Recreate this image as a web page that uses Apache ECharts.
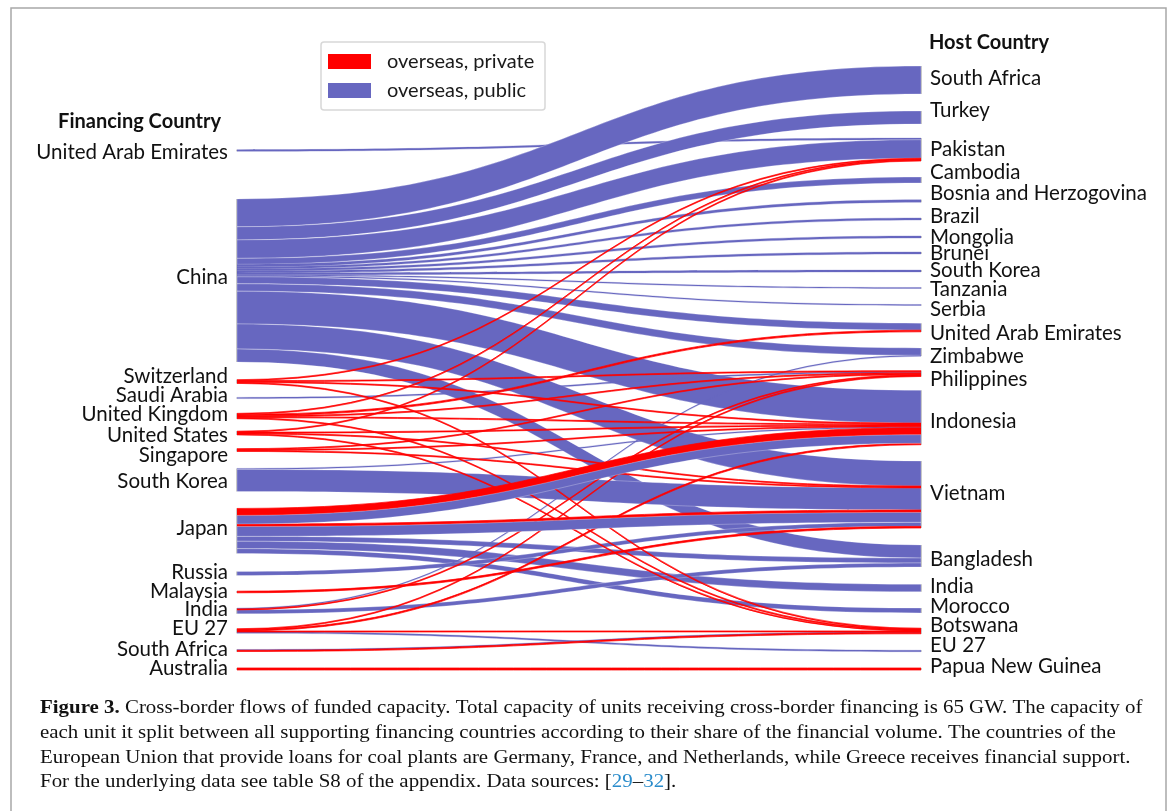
<!DOCTYPE html>
<html>
<head>
<meta charset="utf-8">
<script src="https://cdn.jsdelivr.net/npm/echarts@6/dist/echarts.min.js"></script>
<style>
  html, body { margin: 0; padding: 0; background: #fff; }
  #chart { width: 1170px; height: 811px; }
</style>
</head>
<body>
<div id="chart"></div>
<script>
// financing countries (left) and host countries (right), top to bottom
var financing = ['United Arab Emirates', 'China', 'Switzerland', 'Saudi Arabia', 'United Kingdom',
  'United States', 'Singapore', 'South Korea', 'Japan', 'Russia', 'Malaysia', 'India', 'EU 27',
  'South Africa', 'Australia'];
var hosts = ['South Africa', 'Turkey', 'Pakistan', 'Cambodia', 'Bosnia and Herzogovina', 'Brazil',
  'Mongolia', 'Brunei', 'South Korea', 'Tanzania', 'Serbia', 'United Arab Emirates', 'Zimbabwe',
  'Philippines', 'Indonesia', 'Vietnam', 'Bangladesh', 'India', 'Morocco', 'Botswana', 'EU 27',
  'Papua New Guinea'];

// funded capacity in GW, [financing, host, GW]
var publicFlows = [
  ['United Arab Emirates', 'Pakistan', 0.4],
  ['China', 'South Africa', 6.8],
  ['China', 'Turkey', 3.2],
  ['China', 'Pakistan', 4.5],
  ['China', 'Cambodia', 1.45],
  ['China', 'Bosnia and Herzogovina', 0.6],
  ['China', 'Brazil', 0.5],
  ['China', 'Mongolia', 0.5],
  ['China', 'Brunei', 0.5],
  ['China', 'South Korea', 0.45],
  ['China', 'Tanzania', 0.25],
  ['China', 'Serbia', 0.25],
  ['China', 'United Arab Emirates', 1.7],
  ['China', 'Zimbabwe', 1.8],
  ['China', 'Indonesia', 8.0],
  ['China', 'Vietnam', 6.1],
  ['China', 'Bangladesh', 3.2],
  ['Saudi Arabia', 'Philippines', 0.3],
  ['South Korea', 'Indonesia', 0.25],
  ['South Korea', 'Vietnam', 5.4],
  ['Japan', 'Bangladesh', 1.2],
  ['Japan', 'India', 1.8],
  ['Japan', 'Morocco', 1.2],
  ['Russia', 'Vietnam', 1.0],
  ['India', 'Zimbabwe', 0.2],
  ['India', 'Bangladesh', 1.0],
  ['EU 27', 'EU 27', 0.35],
  ['South Africa', 'Botswana', 0.2]
];
var privateFlows = [
  ['Switzerland', 'Pakistan', 0.22],
  ['Switzerland', 'Philippines', 0.22],
  ['Switzerland', 'Indonesia', 0.22],
  ['Switzerland', 'Botswana', 0.22],
  ['United Kingdom', 'Pakistan', 0.22],
  ['United Kingdom', 'United Arab Emirates', 0.4],
  ['United Kingdom', 'Philippines', 0.22],
  ['United Kingdom', 'Indonesia', 0.22],
  ['United Kingdom', 'Botswana', 0.22],
  ['United States', 'Pakistan', 0.22],
  ['United States', 'Indonesia', 0.22],
  ['United States', 'Vietnam', 0.22],
  ['United States', 'Botswana', 0.22],
  ['Singapore', 'Philippines', 0.22],
  ['Singapore', 'Indonesia', 0.22],
  ['Singapore', 'Vietnam', 0.22],
  ['Japan', 'Indonesia', 1.7],
  ['Japan', 'Vietnam', 0.6],
  ['Malaysia', 'Vietnam', 0.4],
  ['India', 'Philippines', 0.2],
  ['EU 27', 'Philippines', 0.2],
  ['EU 27', 'Indonesia', 0.35],
  ['EU 27', 'Botswana', 0.2],
  ['South Africa', 'Botswana', 0.3],
  ['Australia', 'Papua New Guinea', 0.5]
];
// Japanese public loans, listed after its private ones (below them at each node)
var japanPublicFlows = [
  ['Japan', 'Indonesia', 2.1],
  ['Japan', 'Vietnam', 2.4]
];

// vertical centre of each node and of its label in the figure (px)
var leftY = [150.5, 280.5, 381.5, 398, 416, 433, 450, 480, 531, 573.5, 592, 611, 631, 650.5, 669];
var leftLabelY = [152, 277, 376, 395, 414, 435, 455, 481, 528, 572, 591, 609, 628, 649, 668];
var rightY = [80, 117.5, 149.5, 180, 201, 219, 237, 253, 271, 288, 305, 327.5, 352, 373.5, 417.5,
  494.5, 556, 588, 610.5, 631, 651, 669];
var rightLabelY = [78, 110, 149, 172, 193, 216, 237, 253, 270, 289, 309, 333, 356, 379, 421,
  493, 559, 586, 606, 625, 645, 666];

var RED = '#ff0000';
var BLUE = '#6767c0';
var TOP = 60, H = 620, KY = 4.1; // px per GW

var flows = publicFlows.map(function (f) { return f.concat(BLUE); })
  .concat(privateFlows.map(function (f) { return f.concat(RED); }))
  .concat(japanPublicFlows.map(function (f) { return f.concat(BLUE); }));

var outTot = {}, inTot = {}, total = 0;
flows.forEach(function (f) {
  outTot[f[0]] = (outTot[f[0]] || 0) + f[2];
  inTot[f[1]] = (inTot[f[1]] || 0) + f[2];
  total += f[2];
});
var gap = (H - KY * total) / (hosts.length - 1);

var nodes = [];
financing.forEach(function (n, i) {
  nodes.push({
    name: 'L:' + n,
    localY: (leftY[i] - outTot[n] * KY / 2 - TOP) / H,
    label: { position: 'left', offset: [0, leftLabelY[i] - leftY[i]] }
  });
});
hosts.forEach(function (n, i) {
  nodes.push({
    name: 'R:' + n,
    localY: (rightY[i] - inTot[n] * KY / 2 - TOP) / H,
    label: { position: 'right', offset: [0, rightLabelY[i] - rightY[i]] }
  });
});

var links = flows.map(function (f) {
  var isPublic = f[3] === BLUE;
  var wide = isPublic && f[2] >= 1;
  return {
    source: 'L:' + f[0],
    target: 'R:' + f[1],
    value: f[2],
    lineStyle: {
      color: f[3],
      opacity: 1,
      borderColor: wide ? 'rgba(255,255,255,0.55)' : f[3],
      borderWidth: wide ? 0.5 : (isPublic ? 0.3 : 0.7)
    }
  };
});

var chart = echarts.init(document.getElementById('chart'));
chart.setOption({
  animation: false,
  tooltip: { show: false },
  graphic: [
    {
      type: 'rect', silent: true, z: -10,
      shape: { x: 11, y: 8, width: 1155, height: 900 },
      style: { fill: 'none', stroke: '#a8a8a8', lineWidth: 1.5 }
    },
    {
      type: 'group', silent: true,
      children: [
        { type: 'rect', shape: { x: 321, y: 42, width: 224, height: 68, r: 3 },
          style: { fill: '#fff', stroke: '#d8d8d8', lineWidth: 1.5 } },
        { type: 'rect', shape: { x: 328, y: 54, width: 43, height: 15 }, style: { fill: RED } },
        { type: 'rect', shape: { x: 328, y: 83, width: 43, height: 15 }, style: { fill: BLUE } },
        { type: 'text', x: 387, y: 62,
          style: { text: 'overseas, private', font: '20px Lato', fill: '#1a1a1a', verticalAlign: 'middle' } },
        { type: 'text', x: 387, y: 91,
          style: { text: 'overseas, public', font: '20px Lato', fill: '#1a1a1a', verticalAlign: 'middle' } }
      ]
    },
    { type: 'text', silent: true, x: 221, y: 122,
      style: { text: 'Financing Country', font: 'bold 20px Lato', fill: '#111', align: 'right', verticalAlign: 'middle' } },
    { type: 'text', silent: true, x: 929, y: 43,
      style: { text: 'Host Country', font: 'bold 20px Lato', fill: '#111', verticalAlign: 'middle' } },
    {
      type: 'text', silent: true, x: 40, y: 696, scaleX: 1.13,
      style: {
        text: '{b|Figure 3.} Cross-border flows of funded capacity. Total capacity of units receiving cross-border financing is 65 GW. The capacity of\n' +
          'each unit it split between all supporting financing countries according to their share of the financial volume. The countries of the\n' +
          'European Union that provide loans for coal plants are Germany, France, and Netherlands, while Greece receives financial support.\n' +
          'For the underlying data see table S8 of the appendix. Data sources: [{c|29}–{c|32}].',
        font: '18.5px "Liberation Serif"',
        fill: '#111',
        lineHeight: 24.7,
        rich: {
          b: { fontWeight: 'bold', fontFamily: 'Liberation Serif', fontSize: 18.5, fill: '#111' },
          c: { fontFamily: 'Liberation Serif', fontSize: 18.5, fill: '#2a8ccb' }
        }
      }
    }
  ],
  series: [{
    type: 'sankey',
    left: 236,
    top: TOP,
    width: 686,
    height: H,
    nodeWidth: 1,
    nodeGap: gap,
    layoutIterations: 0,
    draggable: false,
    silent: true,
    emphasis: { disabled: true },
    itemStyle: { color: '#c8c8c8', borderWidth: 0 },
    lineStyle: { curveness: 0.5, opacity: 1 },
    label: {
      fontFamily: 'Lato',
      fontSize: 20.5,
      color: '#111',
      distance: 8,
      formatter: function (p) { return p.name.slice(2); }
    },
    data: nodes,
    links: links
  }]
});
</script>
</body>
</html>
